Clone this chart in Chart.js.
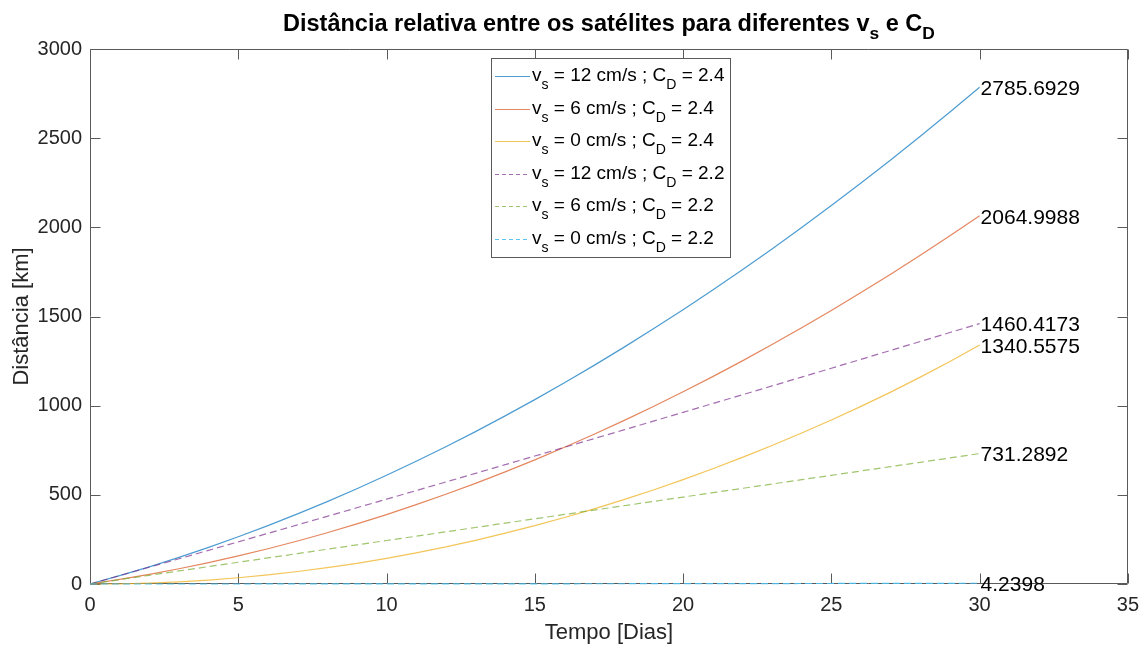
<!DOCTYPE html>
<html>
<head>
<meta charset="utf-8">
<script src="https://cdn.jsdelivr.net/npm/chart.js@4.4.1/dist/chart.umd.min.js"></script>
<style>
html,body{margin:0;padding:0;background:#fff;}
#wrap{width:1148px;height:648px;}
</style>
</head>
<body>
<div id="wrap"><canvas id="c" width="1148" height="648"></canvas></div>
<script>
// ---- Data ----
const days = [0,1,2,3,4,5,6,7,8,9,10,11,12,13,14,15,16,17,18,19,20,21,22,23,24,25,26,27,28,29,30];

const dist_vs12_cd24 = [0,46.6,96.4,149.4,205.5,264.9,327.4,393.2,462.1,534.2,609.5,688,769.7,854.6,942.6,1033.9,1128.3,1226,1326.8,1430.8,1538,1648.4,1762,1878.8,1998.7,2121.9,2248.2,2377.8,2510.5,2646.4,2785.6929];
const dist_vs6_cd24  = [0,25.5,54,85.4,119.9,157.4,197.8,241.2,287.6,337,389.4,444.8,503.2,564.6,628.9,696.2,766.6,839.9,916.2,995.5,1077.8,1163,1251.3,1342.5,1436.8,1534,1634.2,1737.4,1843.6,1952.8,2064.9988];
const dist_vs0_cd24  = [0,1.2,5,12,22,35,51,70,92,116,144,175,208,245,285,327,373,421,473,527,585,646,710,777,847,920,996,1076,1160,1248,1340.5575];
const dist_vs12_cd22 = [0,47.1,94.2,141.5,188.9,236.4,284.0,331.7,379.6,427.5,475.6,523.8,572.1,620.5,669.0,717.6,766.3,815.2,864.1,913.2,962.4,1011.7,1061.1,1110.6,1160.3,1210.0,1259.9,1309.8,1359.9,1410.1,1460.4173];
const dist_vs6_cd22  = [0,24.4,48.8,73.1,97.5,121.9,146.3,170.6,195.0,219.4,243.8,268.1,292.5,316.9,341.3,365.6,390.0,414.4,438.8,463.1,487.5,511.9,536.3,560.6,585.0,609.4,633.8,658.2,682.5,706.9,731.2892];
const dist_vs0_cd22  = [0,0.005,0.019,0.042,0.075,0.118,0.170,0.231,0.301,0.382,0.471,0.570,0.678,0.796,0.923,1.06,1.206,1.361,1.526,1.701,1.884,2.078,2.28,2.492,2.713,2.944,3.185,3.434,3.693,3.962,4.2398];

const vsLabels = ['12','6','0','12','6','0'];
const cdLabels = ['2.4','2.4','2.4','2.2','2.2','2.2'];
const xTickValues = [0,5,10,15,20,25,30,35];
const yTickValues = [0,500,1000,1500,2000,2500,3000];

// ---- Styling ----
const FONT = "'Liberation Sans', Arial, Helvetica, sans-serif";
const AXIS_COLOR = '#262626';
const BOX_COLOR = '#5a5a5a';
const seriesValues = [dist_vs12_cd24, dist_vs6_cd24, dist_vs0_cd24, dist_vs12_cd22, dist_vs6_cd22, dist_vs0_cd22];
const colors = ['rgba(0,114,189,0.7)','rgba(217,83,25,0.7)','rgba(237,177,32,0.75)','rgba(126,47,142,0.7)','rgba(119,172,48,0.7)','rgba(77,190,238,0.9)'];
const dashes = [[],[],[],[7,4],[7,4],[7,4]];

function drawRich(ctx, x, y, parts, size, weight, align, color, subRatio, subShift) {
  const subSize = size * subRatio;
  let total = 0;
  parts.forEach(p => {
    ctx.font = `${weight} ${p.sub ? subSize : size}px ${FONT}`;
    p.w = ctx.measureText(p.t).width;
    total += p.w;
  });
  let cx = align === 'center' ? x - total / 2 : x;
  ctx.fillStyle = color;
  ctx.textAlign = 'left';
  ctx.textBaseline = 'alphabetic';
  parts.forEach(p => {
    ctx.font = `${weight} ${p.sub ? subSize : size}px ${FONT}`;
    ctx.fillText(p.t, cx, p.sub ? y + size * subShift : y);
    cx += p.w;
  });
}

const boxPlugin = {
  id: 'boxPlugin',
  beforeDatasetsDraw(chart) {
    const {ctx, chartArea: a, scales: {x, y}} = chart;
    ctx.save();
    ctx.strokeStyle = BOX_COLOR;
    ctx.lineWidth = 1;
    ctx.beginPath();
    const L = Math.round(a.left) + 0.5, R = Math.round(a.right) - 0.5;
    const T = Math.round(a.top) + 0.5, B = Math.round(a.bottom) - 0.5;
    ctx.rect(L, T, R - L, B - T);
    const tl = 10;
    xTickValues.forEach(v => {
      const px = Math.round(x.getPixelForValue(v)) + 0.5;
      ctx.moveTo(px, B); ctx.lineTo(px, B - tl);
      ctx.moveTo(px, T); ctx.lineTo(px, T + tl);
    });
    yTickValues.forEach(v => {
      const py = Math.round(y.getPixelForValue(v)) + 0.5;
      ctx.moveTo(L, py); ctx.lineTo(L + tl, py);
      ctx.moveTo(R, py); ctx.lineTo(R - tl, py);
    });
    ctx.stroke();
    ctx.restore();
  }
};

const endLabelPlugin = {
  id: 'endLabelPlugin',
  afterDatasetsDraw(chart) {
    const {ctx, scales: {x, y}} = chart;
    ctx.save();
    ctx.fillStyle = '#000';
    ctx.font = `21px ${FONT}`;
    ctx.textAlign = 'left';
    ctx.textBaseline = 'middle';
    seriesValues.forEach(vals => {
      const last = vals[vals.length - 1];
      const px = x.getPixelForValue(days[days.length - 1]);
      const py = y.getPixelForValue(last);
      ctx.fillText(last.toFixed(4), px + 1, py + 2);
    });
    ctx.restore();
  }
};

const legendPlugin = {
  id: 'legendPlugin',
  afterDraw(chart) {
    const {ctx} = chart;
    ctx.save();
    const bx = 491.5, by = 58.5, bw = 239, bh = 199;
    ctx.fillStyle = '#fff';
    ctx.fillRect(bx, by, bw, bh);
    ctx.strokeStyle = BOX_COLOR;
    ctx.lineWidth = 1;
    ctx.strokeRect(bx, by, bw, bh);
    for (let i = 0; i < 6; i++) {
      const ly = Math.round(76 + i * 32.6) + 0.5;
      ctx.strokeStyle = colors[i];
      ctx.lineWidth = 1.2;
      ctx.setLineDash(dashes[i].length ? [4, 3] : []);
      ctx.beginPath();
      ctx.moveTo(495, ly); ctx.lineTo(530, ly);
      ctx.stroke();
      ctx.setLineDash([]);
      drawRich(ctx, 532, ly + 4.5, [
        {t: 'v'}, {t: 's', sub: true},
        {t: ` = ${vsLabels[i]} cm/s ; C`}, {t: 'D', sub: true},
        {t: ` = ${cdLabels[i]}`}
      ], 19, 'normal', 'left', '#000', 0.74, 0.4);
    }
    ctx.restore();
  }
};

const titlePlugin = {
  id: 'titlePlugin',
  afterDraw(chart) {
    const {ctx, chartArea: a} = chart;
    ctx.save();
    drawRich(ctx, (a.left + a.right) / 2, 31, [
      {t: 'Distância relativa entre os satélites para diferentes v'}, {t: 's', sub: true},
      {t: ' e C'}, {t: 'D', sub: true}
    ], 23.5, 'bold', 'center', '#000', 0.74, 0.36);
    ctx.restore();
  }
};

const datasets = seriesValues.map((vals, i) => ({
  label: `v_s = ${vsLabels[i]} cm/s ; C_D = ${cdLabels[i]}`,
  data: days.map((d, j) => ({x: d, y: vals[j]})),
  borderColor: colors[i],
  backgroundColor: colors[i],
  borderWidth: 1.2,
  borderDash: dashes[i],
  pointRadius: 0,
  tension: 0,
  fill: false,
  clip: false,
  order: 5 - i
}));

new Chart(document.getElementById('c'), {
  type: 'line',
  data: {datasets},
  options: {
    responsive: false,
    animation: false,
    devicePixelRatio: 1,
    layout: {padding: {left: 0, right: 16, top: 49, bottom: 0}},
    plugins: {legend: {display: false}, title: {display: false}, tooltip: {enabled: false}},
    scales: {
      x: {
        type: 'linear', min: 0, max: 35,
        afterBuildTicks: sc => { sc.ticks = xTickValues.map(v => ({value: v})); },
        afterFit: sc => { sc.height = 64; },
        grid: {display: false, drawTicks: false},
        border: {display: false},
        ticks: {font: {family: FONT, size: 20}, color: AXIS_COLOR, padding: 9, maxRotation: 0, autoSkip: false, callback: v => String(v)},
        title: {display: true, text: 'Tempo [Dias]', font: {family: FONT, size: 22}, color: AXIS_COLOR, padding: {top: 0, bottom: 2}}
      },
      y: {
        type: 'linear', min: 0, max: 3000,
        afterBuildTicks: sc => { sc.ticks = yTickValues.map(v => ({value: v})); },
        afterFit: sc => { sc.width = 90; },
        grid: {display: false, drawTicks: false},
        border: {display: false},
        ticks: {font: {family: FONT, size: 20}, color: AXIS_COLOR, padding: 8, autoSkip: false, callback: v => String(v)},
        title: {display: true, text: 'Distância [km]', font: {family: FONT, size: 22}, color: AXIS_COLOR, padding: {top: 9, bottom: 0}}
      }
    }
  },
  plugins: [boxPlugin, endLabelPlugin, legendPlugin, titlePlugin]
});
</script>
</body>
</html>
